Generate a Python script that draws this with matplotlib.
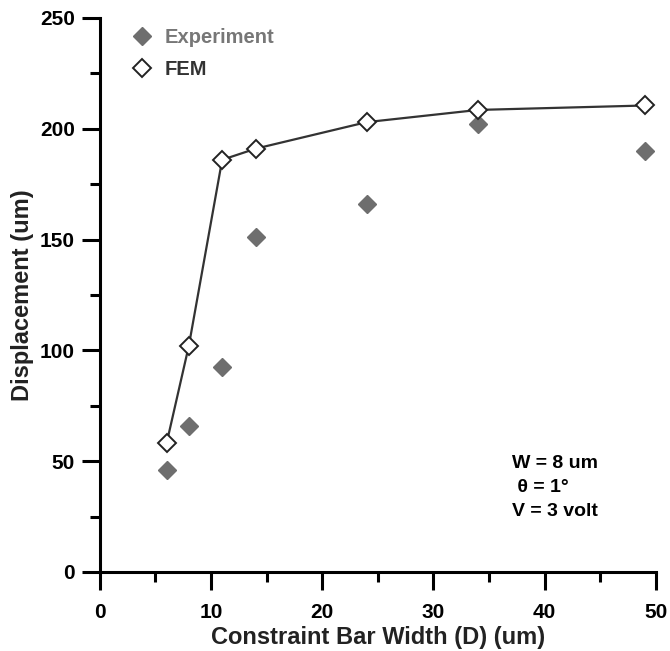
import numpy as np
import matplotlib
matplotlib.use("Agg")
import matplotlib.pyplot as plt
from matplotlib.ticker import MultipleLocator

plt.rcParams['font.family'] = ['Liberation Sans', 'DejaVu Sans']

# data
width_um = [6, 8, 11, 14, 24, 34, 49]
experiment = [46, 66, 92.5, 151, 166, 202, 190]
fem = [58, 102, 186, 191, 203, 208.5, 210.5]

fig = plt.figure(figsize=(6.70, 6.51), dpi=100)
ax = fig.add_axes([0.149, 0.1214, 0.830, 0.851])

# FEM line and markers
ax.plot(width_um, fem, color='#333333', lw=1.6, zorder=2)
ax.plot(width_um, experiment, ls='none', marker='D', ms=9.5,
        color='#6e6e6e', mec='#6e6e6e', label='Experiment', zorder=3)
ax.plot(width_um, fem, ls='none', marker='D', ms=9.5,
        mfc='white', mec='#222222', mew=1.4, label='FEM', zorder=4)

ax.set_xlim(0, 50)
ax.set_ylim(0, 250)
ax.xaxis.set_major_locator(MultipleLocator(10))
ax.xaxis.set_minor_locator(MultipleLocator(5))
ax.yaxis.set_major_locator(MultipleLocator(50))
ax.yaxis.set_minor_locator(MultipleLocator(25))

for s in ['top', 'right']:
    ax.spines[s].set_visible(False)
for s in ['left', 'bottom']:
    ax.spines[s].set_linewidth(2.2)
    ax.spines[s].set_color('black')

ax.tick_params(which='major', direction='out', length=13, width=2.2,
               labelsize=15)
ax.tick_params(axis='x', which='major', pad=9)
ax.tick_params(axis='y', which='major', pad=5)
ax.tick_params(which='minor', direction='out', length=7, width=2.2)
for lab in ax.get_xticklabels() + ax.get_yticklabels():
    lab.set_fontweight('bold')

ax.set_xlabel('Constraint Bar Width (D) (um)', fontsize=17,
              fontweight='bold', color='#222222', labelpad=3)
ax.set_ylabel('Displacement (um)', fontsize=17, fontweight='bold',
              color='#222222', labelpad=4)

leg = ax.legend(loc='upper left', bbox_to_anchor=(0.022, 1.015),
                frameon=False, numpoints=1, handlelength=1.2,
                handletextpad=0.5, labelspacing=0.65,
                prop={'weight': 'bold', 'size': 14.5},
                labelcolor=['#777777', '#333333'])

ax.text(0.742, 0.212, 'W = 8 um\n θ = 1°\nV = 3 volt', transform=ax.transAxes,
        fontsize=14, fontweight='bold', ha='left', va='top',
        linespacing=1.55, color='black')

fig.savefig('out.png', dpi=100)
